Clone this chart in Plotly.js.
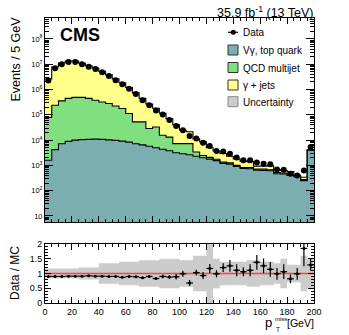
<!DOCTYPE html>
<html>
<head>
<meta charset="utf-8">
<script src="https://cdn.plot.ly/plotly-3.0.1.min.js"></script>
<style>
  html, body { margin:0; padding:0; background:#fff; }
  #plot { width:349px; height:335px; }
</style>
</head>
<body>
<div id="plot"></div>
<script>
// pT^miss binning, 5 GeV bins (last bin holds overflow)
const binEdges = [0,5,10,15,20,25,30,35,40,45,50,55,60,65,70,75,80,85,90,95,
  100,105,110,115,120,125,130,135,140,145,150,155,160,165,170,175,180,185,190,195,200];

// events per bin
const dataCounts = [2.3e6, 6.9e6, 1.0e7, 1.23e7, 1.23e7, 1.0e7, 7.9e6, 6.5e6, 4.8e6, 3.4e6,
  2.35e6, 1.62e6, 1.07e6, 6.6e5, 3.8e5, 2.4e5, 1.5e5, 1.02e5, 6.2e4, 3.6e4,
  2.45e4, 1.45e4, 1.15e4, 7900, 5900, 3700, 3550, 2900, 2050, 1600,
  1600, 1300, 1170, 1100, 690, 680, 470, 400, 630, 5400];

const vgTop = [1600, 4200, 7200, 8900, 10000, 10500, 10700, 11000, 10700, 10200,
  9800, 9100, 8300, 7200, 6500, 5750, 5000, 4350, 3800, 3160,
  2880, 2630, 2290, 2000, 1780, 1550, 1200, 1120, 910, 760,
  740, 645, 630, 615, 470, 455, 400, 355, 250, 4000];

const qcd = [77800, 236000, 348000, 438000, 480000, 480000, 436000, 369000, 313000, 272000,
  214000, 169000, 104000, 45300, 46000, 23000, 28100, 11200, 9400, 4080,
  4360, 4610, 1100, 450, 300, 200, 150, 140, 90, 70,
  90, 65, 80, 60, 55, 45, 27, 25, 25, 70];

const gjets = [2.55e6, 7.52e6, 1.08e7, 1.31e7, 1.30e7, 1.05e7, 8.25e6, 6.7e6, 4.93e6, 3.52e6,
  2.41e6, 1.68e6, 1.09e6, 6.88e5, 3.95e5, 2.4e5, 1.49e5, 9.95e4, 5.76e4, 3.35e4,
  1.73e4, 1.42e4, 7810, 6050, 2920, 1950, 1600, 1030, 820, 650,
  580, 223, 223, 280, 167, 131, 148, 30, 64, 100];

// Data / MC panel
const ratio = [0.90, 0.90, 0.90, 0.91, 0.91, 0.91, 0.92, 0.91, 0.91, 0.90,
  0.90, 0.87, 0.90, 0.89, 0.86, 0.90, 0.83, 0.90, 0.88, 0.89,
  0.99, 0.68, 1.03, 0.93, 1.17, 0.99, 1.20, 1.26, 1.11, 1.06,
  1.11, 1.38, 1.26, 1.14, 0.99, 1.06, 0.82, 0.99, 1.85, 1.29];

const ratioErr = [0.02, 0.02, 0.02, 0.02, 0.02, 0.02, 0.02, 0.02, 0.02, 0.03,
  0.03, 0.03, 0.03, 0.04, 0.04, 0.05, 0.05, 0.06, 0.07, 0.09,
  0.10, 0.10, 0.10, 0.12, 0.15, 0.12, 0.15, 0.20, 0.20, 0.15,
  0.20, 0.25, 0.25, 0.25, 0.20, 0.25, 0.15, 0.20, 0.60, 0.20];

// half-width of the grey uncertainty band
const uncHalf = [0.17, 0.17, 0.17, 0.17, 0.17, 0.20, 0.20, 0.20, 0.35, 0.35,
  0.35, 0.40, 0.40, 0.40, 0.45, 0.45, 0.45, 0.50, 0.50, 0.50,
  0.45, 0.45, 0.60, 0.60, 1.20, 0.50, 0.40, 0.40, 0.40, 0.40,
  0.45, 0.45, 0.40, 0.40, 0.35, 0.50, 0.30, 0.30, 0.60, 0.50];

const logTickVals = [10, 1e2, 1e3, 1e4, 1e5, 1e6, 1e7, 1e8];
const logTickText = ["10", "10<sup>2</sup>", "10<sup>3</sup>", "10<sup>4</sup>",
  "10<sup>5</sup>", "10<sup>6</sup>", "10<sup>7</sup>", "10<sup>8</sup>"];
const xTickVals = [0, 20, 40, 60, 80, 100, 120, 140, 160, 180, 200];
const xTickText = ["0", "20", "40", "60", "80", "100", "120", "140", "160", "180", "200"];
const rTickVals = [0, 0.5, 1, 1.5, 2];
const rTickText = ["0", "0.5", "1", "1.5", "2"];

const legendItems = [
  {label: "V\u03b3, top quark", color: "#7aaeb0", line: "#333"},
  {label: "QCD multijet", color: "#80e080", line: "#333"},
  {label: "\u03b3 + jets", color: "#ffff8a", line: "#333"},
  {label: "Uncertainty", color: "#cccccc", line: "#888"}
];

// ---- helpers ----
const FONT = "Liberation Sans, Arial, Helvetica, sans-serif";
const L = 45, R = 314, T = 18, B = 303;          // plot frame in px
const px2x = px => (px - L) / (R - L);
const px2y = py => (B - py) / (B - T);
const step = arr => arr.concat([arr[arr.length - 1]]);
const binCenters = binEdges.slice(0, -1).map((e, i) => (e + binEdges[i + 1]) / 2);
const halfBin = (binEdges[1] - binEdges[0]) / 2;

const stackTeal = vgTop;
const stackQcd = vgTop.map((v, i) => v + qcd[i]);
const stackAll = stackQcd.map((v, i) => v + gjets[i]);

function stepTrace(y, fillcolor){
  return {
    x: binEdges, y: step(y), xaxis: "x", yaxis: "y",
    mode: "lines", line: {shape: "hv", color: "#000", width: 1.1},
    fill: "tozeroy", fillcolor: fillcolor, hoverinfo: "skip"
  };
}

const traces = [
  stepTrace(stackAll, legendItems[2].color),
  stepTrace(stackQcd, legendItems[1].color),
  stepTrace(stackTeal, legendItems[0].color),
  {
    x: binCenters, y: dataCounts, xaxis: "x", yaxis: "y",
    mode: "markers", marker: {color: "#000", size: 6}
  },
  // ratio panel
  {
    x: binEdges, y: step(uncHalf.map(u => 1 - u)), xaxis: "x2", yaxis: "y2",
    mode: "lines", line: {shape: "hv", width: 0}, hoverinfo: "skip"
  },
  {
    x: binEdges, y: step(uncHalf.map(u => 1 + u)), xaxis: "x2", yaxis: "y2",
    mode: "lines", line: {shape: "hv", width: 0}, fill: "tonexty",
    fillcolor: legendItems[3].color, hoverinfo: "skip"
  },
  {
    x: [binEdges[0], binEdges[binEdges.length - 1]], y: [1, 1], xaxis: "x2", yaxis: "y2",
    mode: "lines", line: {color: "#ff4040", width: 1.5}, hoverinfo: "skip"
  },
  {
    x: binCenters, y: ratio, xaxis: "x2", yaxis: "y2",
    mode: "markers", marker: {color: "#000", size: 3},
    error_x: {type: "constant", value: halfBin, width: 0, thickness: 1.2, color: "#000"},
    error_y: {type: "data", array: ratioErr, width: 0, thickness: 1.2, color: "#000"}
  }
];

const axisCommon = {
  showline: true, linecolor: "#000", linewidth: 1, mirror: "allticks",
  ticks: "inside", tickcolor: "#000", showgrid: false, zeroline: false
};

// legend drawn by hand (ROOT style)
const shapes = [];
const annotations = [];
const legX0 = 228, legX1 = 238, legTextX = 240.5;
shapes.push({type: "line", xref: "paper", yref: "paper",
  x0: px2x(legX0), x1: px2x(legX1), y0: px2y(32.3), y1: px2y(32.3),
  line: {color: "#000", width: 1.2}});
shapes.push({type: "circle", xref: "paper", yref: "paper",
  x0: px2x(230.8), x1: px2x(235.8), y0: px2y(34.8), y1: px2y(29.8),
  fillcolor: "#000", line: {color: "#000", width: 0}});
annotations.push({text: "Data", xref: "paper", yref: "paper", x: px2x(legTextX), y: px2y(32.8),
  xanchor: "left", yanchor: "middle", showarrow: false, font: {size: 10}});
const legCy = [50, 67.5, 85, 101.7];
legendItems.forEach((it, i) => {
  const cy = legCy[i];
  shapes.push({type: "rect", xref: "paper", yref: "paper",
    x0: px2x(legX0), x1: px2x(legX1), y0: px2y(cy + 5), y1: px2y(cy - 5),
    fillcolor: it.color, line: {color: it.line, width: 1}});
  annotations.push({text: it.label, xref: "paper", yref: "paper", x: px2x(legTextX), y: px2y(cy + 0.5),
    xanchor: "left", yanchor: "middle", showarrow: false, font: {size: 10}});
});

annotations.push(
  {text: "<b>CMS</b>", xref: "paper", yref: "paper", x: px2x(58), y: px2y(35.5),
    xanchor: "left", yanchor: "middle", showarrow: false, font: {size: 18}},
  {text: "35.9 fb<sup>-1</sup> (13 TeV)", xref: "paper", yref: "paper", x: px2x(315.5), y: px2y(12.5),
    xanchor: "right", yanchor: "middle", showarrow: false, font: {size: 12.5}},
  {text: "Events / 5 GeV", xref: "paper", yref: "paper", x: px2x(15), y: px2y(59.5),
    xanchor: "center", yanchor: "middle", textangle: -90, showarrow: false, font: {size: 12.5}},
  {text: "Data / MC", xref: "paper", yref: "paper", x: px2x(15), y: px2y(273),
    xanchor: "center", yanchor: "middle", textangle: -90, showarrow: false, font: {size: 12}},
  {text: "p", xref: "paper", yref: "paper", x: px2x(274), y: px2y(322.5),
    xanchor: "right", yanchor: "middle", showarrow: false, font: {size: 13}},
  {text: "miss", xref: "paper", yref: "paper", x: px2x(272.5), y: px2y(318.5),
    xanchor: "left", yanchor: "middle", showarrow: false, font: {size: 6}},
  {text: "T", xref: "paper", yref: "paper", x: px2x(273.5), y: px2y(329.5),
    xanchor: "left", yanchor: "middle", showarrow: false, font: {size: 6.5}},
  {text: "[GeV]", xref: "paper", yref: "paper", x: px2x(316), y: px2y(322.5),
    xanchor: "right", yanchor: "middle", showarrow: false, font: {size: 10.5}}
);

const layout = {
  width: 349, height: 335,
  margin: {l: L, r: 349 - R, t: T, b: 335 - B, pad: 0},
  paper_bgcolor: "#fff", plot_bgcolor: "#fff",
  font: {family: FONT, color: "#000"},
  showlegend: false,
  xaxis: Object.assign({}, axisCommon, {
    domain: [0, 1], anchor: "y", range: [0, 200],
    tickvals: xTickVals, showticklabels: false, ticklen: 6,
    minor: {ticks: "inside", ticklen: 3, dtick: 5, tick0: 0, tickcolor: "#000"}
  }),
  yaxis: Object.assign({}, axisCommon, {
    domain: [px2y(222.3), 1], anchor: "x", type: "log", range: [0.75, 8.83],
    tickvals: logTickVals, ticktext: logTickText, ticklen: 8,
    tickfont: {size: 7.5},
    minor: {ticks: "inside", ticklen: 4, dtick: "D1", tickcolor: "#000"}
  }),
  xaxis2: Object.assign({}, axisCommon, {
    domain: [0, 1], anchor: "y2", range: [0, 200],
    tickvals: xTickVals, ticktext: xTickText, ticklen: 6, tickfont: {size: 9},
    minor: {ticks: "inside", ticklen: 3, dtick: 5, tick0: 0, tickcolor: "#000"}
  }),
  yaxis2: Object.assign({}, axisCommon, {
    domain: [0, px2y(244)], anchor: "x2", range: [0, 2],
    tickvals: rTickVals, ticktext: rTickText, ticklen: 6, tickfont: {size: 9},
    minor: {ticks: "inside", ticklen: 3, dtick: 0.1, tick0: 0, tickcolor: "#000"}
  }),
  shapes: shapes,
  annotations: annotations
};

Plotly.newPlot("plot", traces, layout, {displayModeBar: false, staticPlot: true});
</script>
</body>
</html>
